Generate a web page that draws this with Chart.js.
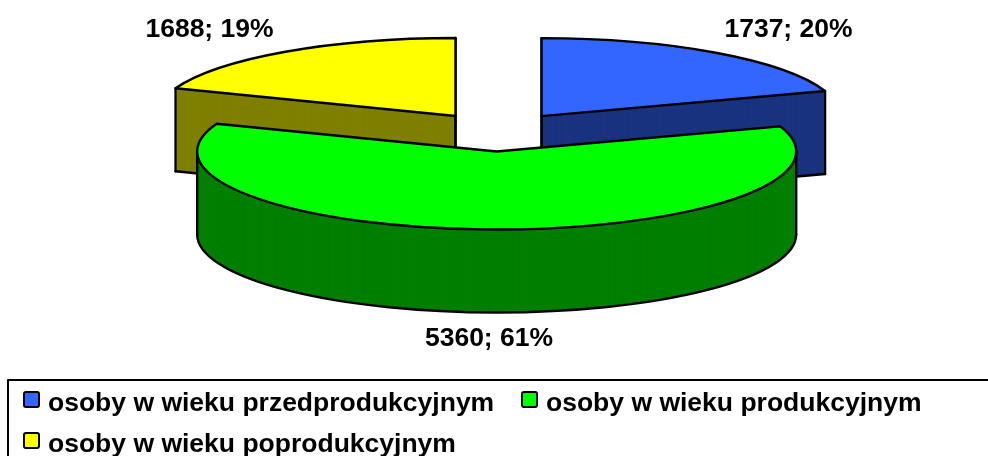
<!DOCTYPE html>
<html><head><meta charset="utf-8">
<style>html,body{margin:0;padding:0;background:#fff}canvas{display:block}</style>
<script src="https://cdn.jsdelivr.net/npm/chart.js@4"></script></head>
<body><canvas id="c" width="988" height="456"></canvas>
<script>
const categories = ['osoby w wieku przedprodukcyjnym','osoby w wieku produkcyjnym','osoby w wieku poprodukcyjnym'];
const values = [1737, 5360, 1688];
const topColors = ['#3366FF','#00FF00','#FFFF00'];
const sideColors = ['#1A337F','#007F00','#7F7F00'];

const view = {cx:498, cy:132, rx:299.5, ry:78, depth:83, explode:0.25};
const labelPos = [[788.5,29.5],[489,338.5],[209.5,29.5]];
const legendPos = [[23,391],[521,391],[23,432]];
const FONT = 'bold 26.5px "Liberation Sans", Arial, sans-serif';
const LINE = 2.4;

const pie3d = {
  id:'pie3d',
  beforeDatasetsDraw(chart){
    const ctx = chart.ctx, arcs = chart.getDatasetMeta(0).data;
    const geo = a => {
      const p = a.getProps(['x','y','startAngle','endAngle','outerRadius'],true);
      const mid = (p.startAngle+p.endAngle)/2;
      return {...p, ox:view.cx+view.explode*view.rx*Math.cos(mid), oy:view.cy+view.explode*view.ry*Math.sin(mid)};
    };
    const path = (g,dy) => {
      ctx.beginPath();
      ctx.moveTo(g.ox,g.oy+dy);
      ctx.ellipse(g.ox,g.oy+dy,view.rx,view.ry,0,g.startAngle,g.endAngle);
      ctx.closePath();
    };
    const rim = (g,t,dy) => [g.ox+view.rx*Math.cos(t), g.oy+view.ry*Math.sin(t)+dy];
    const vert = (x,y) => {ctx.beginPath();ctx.moveTo(x,y);ctx.lineTo(x,y+view.depth);ctx.stroke();};
    const side = i => {
      const g = geo(arcs[i]);
      ctx.fillStyle=sideColors[i];
      for(let d=view.depth;d>=0;d--){path(g,d);ctx.fill();}
      ctx.strokeStyle='#000';ctx.lineJoin='round';ctx.lineCap='round';ctx.lineWidth=LINE;
      const span=g.endAngle-g.startAngle;
      if(span<Math.PI){
        vert(g.ox,g.oy);
        for(const t of [g.startAngle,g.endAngle]){
          const [x,y]=rim(g,t,0);
          vert(x,y);
          ctx.beginPath();ctx.moveTo(x,y+view.depth);ctx.lineTo(g.ox,g.oy+view.depth);ctx.stroke();
        }
      } else {
        const from=Math.max(g.startAngle,0), to=Math.min(g.endAngle,Math.PI);
        ctx.beginPath();ctx.ellipse(g.ox,g.oy+view.depth,view.rx,view.ry,0,from,to);ctx.stroke();
        for(const t of [0,Math.PI]){
          if(t>g.startAngle&&t<g.endAngle){const [x,y]=rim(g,t,0);vert(x,y);}
        }
      }
    };
    const top = i => {
      const a=arcs[i], g=geo(a);
      ctx.save();
      ctx.translate(g.ox,g.oy);
      ctx.scale(view.rx/g.outerRadius,view.ry/g.outerRadius);
      ctx.translate(-g.x,-g.y);
      a.draw(ctx);
      ctx.restore();
      ctx.strokeStyle='#000';ctx.lineWidth=LINE;ctx.lineJoin='round';
      path(g,0);ctx.stroke();
    };
    side(0);side(2);top(0);top(2);side(1);top(1);
    return false;
  },
  afterDraw(chart){
    const ctx=chart.ctx, total=values.reduce((s,v)=>s+v,0);
    ctx.save();
    ctx.font=FONT;ctx.fillStyle='#000';ctx.textBaseline='middle';ctx.textAlign='center';
    values.forEach((v,i)=>ctx.fillText(v+'; '+Math.round(v/total*100)+'%',labelPos[i][0],labelPos[i][1]));
    ctx.strokeStyle='#000';ctx.lineWidth=2;
    ctx.strokeRect(8,380,1000,100);
    ctx.textAlign='left';
    categories.forEach((c,i)=>{
      const [x,y]=legendPos[i];
      ctx.beginPath();ctx.roundRect(x+1,y+1,15,15,2);
      ctx.fillStyle=topColors[i];ctx.fill();ctx.lineWidth=2;ctx.stroke();
      ctx.fillStyle='#000';ctx.fillText(c,x+25,y+13);
    });
    ctx.restore();
  }
};

new Chart(document.getElementById('c'),{
  type:'pie',
  data:{labels:categories,datasets:[{data:values,backgroundColor:topColors,borderWidth:0,clip:false}]},
  options:{responsive:false,animation:false,
    plugins:{legend:{display:false},tooltip:{enabled:false},title:{display:false}}},
  plugins:[pie3d]
});
</script></body></html>
